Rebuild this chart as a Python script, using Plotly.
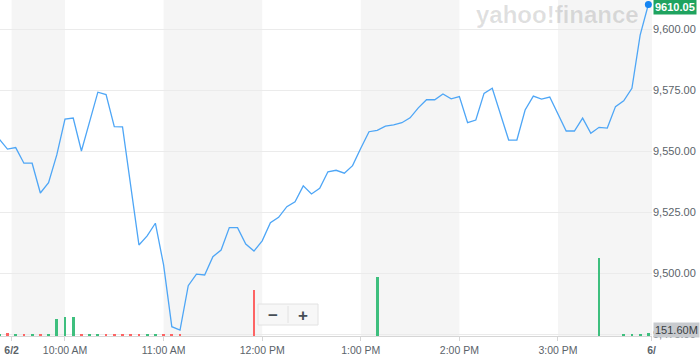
import pandas as pd
import plotly.graph_objects as go

# ---- data ----
start_time = "2020-06-02 09:20"
n_points = 80
price = [9554.9, 9550.8, 9551.4, 9545.0, 9545.0, 9532.8, 9537.0, 9548.4, 9563.1, 9563.5,
         9550.0, 9562.0, 9574.1, 9573.1, 9560.0, 9559.9, 9536.0, 9511.5, 9515.2, 9520.4,
         9503.3, 9478.0, 9476.6, 9494.8, 9499.5, 9499.2, 9506.7, 9509.4, 9518.6, 9518.6,
         9511.9, 9509.0, 9513.2, 9520.6, 9522.8, 9527.2, 9529.2, 9535.7, 9532.4, 9534.7,
         9541.5, 9542.1, 9540.9, 9544.0, 9551.1, 9557.9, 9558.5, 9560.2, 9560.7, 9561.6,
         9563.6, 9567.7, 9571.0, 9571.0, 9573.4, 9571.4, 9572.3, 9561.6, 9562.7, 9573.6,
         9575.7, 9565.5, 9554.5, 9554.5, 9566.8, 9572.5, 9571.3, 9572.1, 9564.8, 9558.2,
         9558.2, 9563.5, 9557.3, 9559.7, 9559.4, 9568.2, 9570.6, 9575.7, 9597.5, 9610.05]
volume_m = [100, 140, 90, 100, 80, 90, 80, 780, 858, 886,
            70, 70, 75, 70, 70, 70, 60, 70, 70, 60,
            70, 75, 70, 0, 0, 0, 0, 0, 0, 0,
            0, 2113, 0, 0, 0, 0, 0, 0, 0, 0,
            0, 0, 0, 0, 0, 0, 2693, 0, 0, 0,
            0, 0, 0, 0, 0, 0, 0, 0, 0, 0,
            0, 0, 0, 0, 0, 0, 0, 0, 0, 0,
            0, 0, 0, 3583, 0, 0, 60, 70, 90, 151.6]
last_price_label = "9610.05"
last_volume_label = "151.60M"
tick_times = ["2020-06-02 09:27:30", "2020-06-02 10:00", "2020-06-02 11:00", "2020-06-02 12:00",
              "2020-06-02 13:00", "2020-06-02 14:00", "2020-06-02 15:00", "2020-06-02 15:57"]
tick_text = ["<b>6/2</b>", "10:00 AM", "11:00 AM", "12:00 PM", "1:00 PM", "2:00 PM", "3:00 PM", "<b>6/</b>"]
price_ticks = [9475, 9500, 9525, 9550, 9575, 9600]
x_range = ["2020-06-02 09:20:27", "2020-06-02 15:57:13"]
band_pairs = [("2020-06-02 09:27:30", "2020-06-02 10:00"), ("2020-06-02 11:00", "2020-06-02 12:00"),
              ("2020-06-02 13:00", "2020-06-02 14:00"), ("2020-06-02 15:00", "2020-06-02 15:57:13")]

times = pd.date_range(start_time, periods=n_points, freq="5min")
GREEN = "#3ebf7e"
RED = "#fd6464"
vol_colors = [GREEN] + [GREEN if price[i] >= price[i - 1] else RED for i in range(1, n_points)]
FONT = "Liberation Sans, Arial, sans-serif"

fig = go.Figure()
fig.add_trace(go.Bar(x=times, y=[v * 1e6 for v in volume_m], marker=dict(color=vol_colors, line=dict(width=0)),
                     width=1.7 * 60 * 1000, yaxis="y", hoverinfo="skip"))
fig.add_trace(go.Scatter(x=times, y=price, mode="lines", line=dict(color="#4ea6f6", width=1.3),
                         yaxis="y2", hoverinfo="skip"))
fig.add_trace(go.Scatter(x=[times[-1]], y=[price[-1]], mode="markers",
                         marker=dict(color="#1585f2", size=7), yaxis="y2", hoverinfo="skip"))

shapes = []
for a, b in band_pairs:
    shapes.append(dict(type="rect", xref="x", yref="paper", x0=a, x1=b, y0=0, y1=1,
                       fillcolor="rgb(245,245,245)", line=dict(width=0), layer="below"))
# zoom control overlay
shapes.append(dict(type="rect", xref="paper", yref="paper", x0=258 / 652, x1=318 / 652,
                   y0=(336 - 325) / 336, y1=(336 - 304) / 336, fillcolor="#f7f7f7",
                   line=dict(color="#e2e2e2", width=1), layer="above"))
shapes.append(dict(type="line", xref="paper", yref="paper", x0=288 / 652, x1=288 / 652,
                   y0=(336 - 323) / 336, y1=(336 - 306) / 336, line=dict(color="#e2e2e2", width=1),
                   layer="above"))

annotations = [
    dict(text="<b>yahoo!finance</b>", xref="paper", yref="paper", x=557 / 652, y=(336 - 15) / 336,
         xanchor="center", yanchor="middle",
         showarrow=False, font=dict(family=FONT, size=24, color="rgba(0,0,0,0.12)")),
    dict(text="<b>" + last_price_label + "</b>", xref="paper", yref="y2", x=1, y=price[-1],
         xanchor="left", yanchor="middle", xshift=1, yshift=-3, showarrow=False,
         bgcolor="#1fa35f", borderpad=1, font=dict(family=FONT, size=11, color="white")),
    dict(text=last_volume_label, xref="paper", yref="y", x=1, y=volume_m[-1] * 1e6,
         xanchor="left", yanchor="middle", xshift=1, yshift=3, showarrow=False,
         bgcolor="#c8cbcf", borderpad=1, font=dict(family=FONT, size=11, color="#3a3f44")),
    dict(text="<b>\u2212</b>", xref="paper", yref="paper", x=273 / 652, y=(336 - 315) / 336,
         xanchor="center", yanchor="middle",
         showarrow=False, font=dict(family=FONT, size=17, color="#464e56")),
    dict(text="<b>+</b>", xref="paper", yref="paper", x=303 / 652, y=(336 - 315) / 336,
         xanchor="center", yanchor="middle",
         showarrow=False, font=dict(family=FONT, size=17, color="#464e56")),
]

fig.update_layout(
    width=700, height=358, margin=dict(l=0, r=48, t=0, b=22),
    plot_bgcolor="white", paper_bgcolor="white", showlegend=False, bargap=0,
    font=dict(family=FONT, color="#5b636a"),
    shapes=shapes, annotations=annotations,
    xaxis=dict(type="date", range=x_range, tickvals=tick_times, ticktext=tick_text,
               showgrid=False, showline=True, linecolor="#d6d6d6", linewidth=1,
               ticks="outside", ticklen=4, tickcolor="#d6d6d6",
               tickfont=dict(family=FONT, size=10.5, color="#5b636a"), zeroline=False, fixedrange=True),
    yaxis=dict(range=[0, 15.4e9], visible=False, showgrid=False, zeroline=False),
    yaxis2=dict(overlaying="y", side="right", range=[9474.18, 9611.89], tickvals=price_ticks,
                tickformat=",.2f", showgrid=True, gridcolor="#ebebeb", gridwidth=1, zeroline=False,
                showline=False, ticks="", tickfont=dict(family=FONT, size=11, color="#5b636a")),
)

fig.write_html("out.html")
